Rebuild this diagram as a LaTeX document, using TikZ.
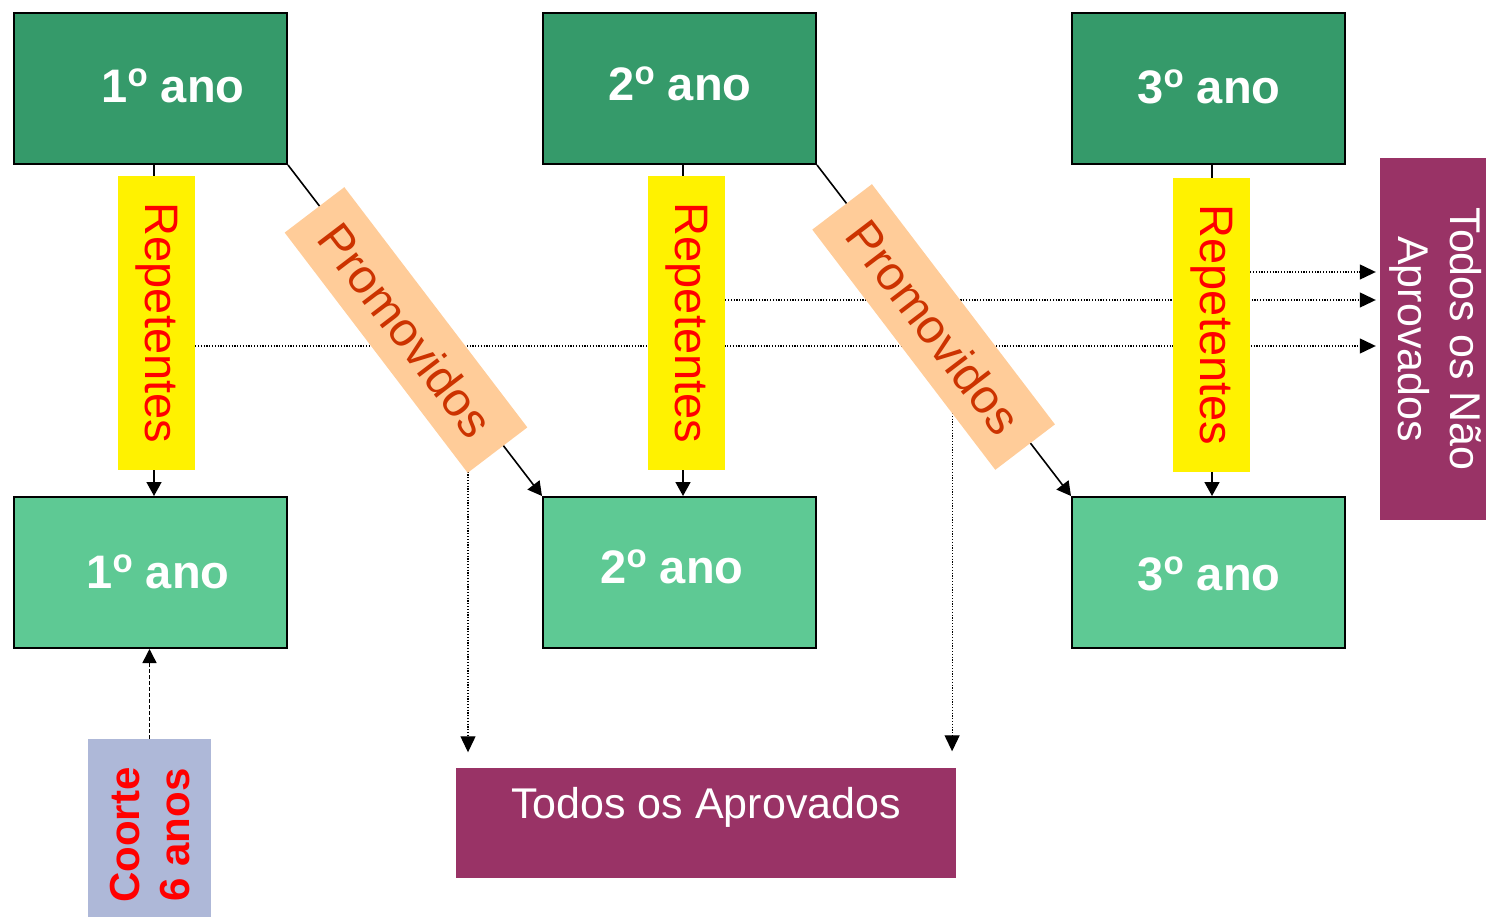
\documentclass[tikz,border=0pt]{standalone}
\usepackage{fontspec}
\setmainfont{Liberation Sans}
\usetikzlibrary{arrows.meta,backgrounds}
\definecolor{dkgreen}{HTML}{359A6A}
\definecolor{ltgreen}{HTML}{5EC994}
\definecolor{promo}{HTML}{FFCC99}
\definecolor{promotext}{HTML}{CC3300}
\definecolor{plum}{HTML}{993366}
\definecolor{coortefill}{HTML}{AEB8D8}
\newcommand{\myord}{\raisebox{16pt}{\fontsize{33}{33}\selectfont o}}
\begin{document}
\begin{tikzpicture}[x=1pt,y=-1pt,
  yearbox/.style={draw=black, line width=2pt, minimum width=273pt, minimum height=151pt, inner sep=0pt},
  topbox/.style={yearbox, fill=dkgreen},
  botbox/.style={yearbox, fill=ltgreen},
  yeartext/.style={text=white, font=\fontsize{47}{56}\selectfont\bfseries, anchor=base, inner sep=0pt},
  repbox/.style={fill=yellow, minimum width=294pt, minimum height=77pt, rotate=-90, inner sep=0pt, text=red, font=\fontsize{47}{56}\selectfont},
  promobox/.style={fill=promo, minimum width=302pt, minimum height=75pt, rotate=-52.7, inner sep=0pt, text=promotext, font=\fontsize{48}{56}\selectfont},
  solidarrow/.style={line width=1.6pt, -{Triangle[length=14pt,width=15pt]}},
  dotarrow/.style={line width=1.2pt, dash pattern=on 1.2pt off 1.6pt, -{Triangle[length=16pt,width=15pt]}},
  dasharrow/.style={line width=1.5pt, dash pattern=on 4pt off 2pt, -{Triangle[length=14pt,width=14pt]}},
  plumbox/.style={fill=plum, inner sep=0pt},
  plumtext/.style={text=white, font=\fontsize{43}{52}\selectfont, inner sep=0pt},
]
\useasboundingbox (0,0) rectangle (1486,917);

% year boxes
\node[topbox] (top1) at (150.5,88.5) {};
\node[topbox] (top2) at (679.5,88.5) {};
\node[topbox] (top3) at (1208.5,88.5) {};
\node[botbox] (bot1) at (150.5,572.5) {};
\node[botbox] (bot2) at (679.5,572.5) {};
\node[botbox] (bot3) at (1208.5,572.5) {};

\node[yeartext] (tt1) at (173,103) {1\myord{} ano};
\node[yeartext] (tt2) at (680,100.5) {2\myord{} ano};
\node[yeartext] (tt3) at (1209,104) {3\myord{} ano};
\node[yeartext] (bt1) at (158,588) {1\myord{} ano};
\node[yeartext] (bt2) at (672,583) {2\myord{} ano};
\node[yeartext] (bt3) at (1209,590) {3\myord{} ano};

% labels on connectors
\node[repbox] (rep1) at (156.5,323) {Repetentes};
\node[repbox] (rep2) at (686.5,323) {Repetentes};
\node[repbox] (rep3) at (1211.5,325) {Repetentes};
\node[promobox] (prom1) at (406,330) {Promovidos};
\node[promobox] (prom2) at (933.6,327) {Promovidos};

% destination boxes
\node[plumbox, minimum width=500pt, minimum height=110pt] (todos) at (706,822.5) {};
\node[plumtext, anchor=base] (todostext) at (706,818) {Todos os Aprovados};
\node[plumbox, minimum width=106pt, minimum height=362pt] (nao) at (1433,339) {};
\node[plumtext, rotate=-90, align=center] (naotext) at (1436,339) {Todos os Não\\Aprovados};
\node[fill=coortefill, minimum width=123pt, minimum height=180pt, inner sep=0pt] (coorte) at (149.5,829) {};
\node[rotate=90, align=center, text=red, font=\fontsize{42}{50}\selectfont\bfseries, inner sep=0pt] (coortetext) at (150,835) {Coorte\\6 anos};

\coordinate (d1s) at ([yshift=-23pt]rep1.north);
\coordinate (d2s) at ([yshift=23pt]rep2.north);
\coordinate (d3s) at ([yshift=53pt]rep3.north);
\coordinate (v1s) at ([xshift=62pt,yshift=-80pt]prom1.center);
\coordinate (v2s) at ([xshift=18.5pt,yshift=-30pt]prom2.center);

\begin{scope}[on background layer]
  \draw[solidarrow] ([xshift=3.5pt]top1.south) -- ([xshift=3.5pt]bot1.north);
  \draw[solidarrow] ([xshift=3.5pt]top2.south) -- ([xshift=3.5pt]bot2.north);
  \draw[solidarrow] ([xshift=3.5pt]top3.south) -- ([xshift=3.5pt]bot3.north);
  \draw[solidarrow] (top1.south east) -- (bot2.north west);
  \draw[solidarrow] (top2.south east) -- (bot3.north west);
  \draw[dotarrow, shorten >=4pt] (d1s) -- (d1s -| nao.west);
  \draw[dotarrow, shorten >=4pt] (d2s) -- (d2s -| nao.west);
  \draw[dotarrow, shorten >=4pt] (d3s) -- (d3s -| nao.west);
  \draw[dotarrow, shorten >=15pt] (v1s) -- (v1s |- todos.north);
  \draw[dotarrow, shorten >=16pt] (v2s) -- (v2s |- todos.north);
\end{scope}
\draw[dasharrow] (coorte.north) -- (coorte.north |- bot1.south);
\end{tikzpicture}
\end{document}
